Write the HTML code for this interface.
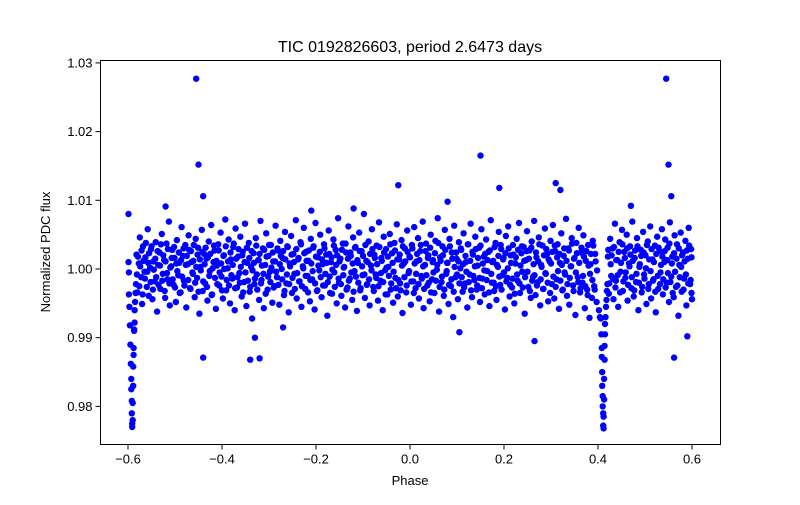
<!DOCTYPE html>
<html><head><meta charset="utf-8"><style>
body{margin:0;background:#fff;}
svg text{font-family:"Liberation Sans","DejaVu Sans",sans-serif;fill:#000;}
</style></head><body>
<svg id="chart" width="800" height="500" viewBox="0 0 800 500">
<rect x="0" y="0" width="800" height="500" fill="#fff"/>
<text x="410" y="52" font-size="16" text-anchor="middle">TIC 0192826603, period 2.6473 days</text>
<g id="points"></g>
<rect x="100.5" y="60.5" width="620" height="384" fill="none" stroke="#000" stroke-width="1"/>
<g id="xticks"></g>
<g id="yticks"></g>
<text x="410" y="485" font-size="13" text-anchor="middle">Phase</text>
<text x="50" y="252" font-size="13" text-anchor="middle" transform="rotate(-90 50 252)">Normalized PDC flux</text>
</svg>
<script>
const xTicks=[-0.6,-0.4,-0.2,0.0,0.2,0.4,0.6];
const xTickLabels=["−0.6","−0.4","−0.2","0.0","0.2","0.4","0.6"];
const yTicks=[0.98,0.99,1.00,1.01,1.02,1.03];
const yTickLabels=["0.98","0.99","1.00","1.01","1.02","1.03"];
const dipPhase=[-0.598,-0.597,-0.596,-0.595,-0.594,-0.593,-0.593,-0.592,-0.592,-0.591,-0.591,-0.590,-0.590,-0.589,-0.589,-0.588,-0.588,-0.587,-0.587,-0.586,-0.586,-0.585,-0.584,-0.583,-0.599,-0.599,-0.598,
0.406,0.407,0.408,0.408,0.409,0.409,0.410,0.410,0.411,0.411,0.412,0.412,0.413,0.413,0.414,0.414,0.415,0.415,0.416,0.417,0.418,0.419,0.420,0.404,0.402];
const dipFlux=[0.9963,0.9945,0.9918,0.9890,0.9862,0.9840,0.9825,0.9808,0.9790,0.9775,0.9770,0.9780,0.9805,0.9830,0.9858,0.9885,0.9875,0.9912,0.9910,0.9922,0.9940,0.9952,0.9965,0.9978,1.0080,1.0010,0.9995,
0.9928,0.9905,0.9885,0.9872,0.9850,0.9830,0.9815,0.9800,0.9790,0.9772,0.9768,0.9785,0.9810,0.9840,0.9868,0.9888,0.9905,0.9920,0.9930,0.9945,0.9955,0.9968,0.9978,0.9930,0.9940];
const outPhase=[-0.455,0.545,-0.450,0.550,0.150,-0.440,0.556,0.310,-0.025,-0.440,0.562,-0.340,-0.320,0.265,0.590,-0.330,0.190,-0.120,0.080,0.320,-0.210,0.470,-0.520,0.105,-0.270];
const outFlux=[1.0277,1.0277,1.0152,1.0152,1.0165,1.0106,1.0106,1.0125,1.0122,0.9871,0.9871,0.9868,0.9870,0.9895,0.9902,0.9900,1.0118,1.0088,1.0098,1.0115,1.0085,1.0092,1.0091,0.9908,0.9915];
const bandPhase=[
-0.582,-0.580,-0.577,-0.575,-0.572,-0.570,-0.568,-0.565,-0.563,-0.560,-0.558,-0.556,-0.553,-0.551,-0.548,-0.546,-0.543,-0.541,-0.538,-0.536,
-0.533,-0.531,-0.528,-0.526,-0.523,-0.521,-0.518,-0.516,-0.513,-0.511,-0.508,-0.506,-0.503,-0.501,-0.498,-0.496,-0.493,-0.491,-0.488,-0.486,
-0.483,-0.481,-0.478,-0.476,-0.473,-0.471,-0.468,-0.466,-0.463,-0.461,-0.458,-0.456,-0.453,-0.451,-0.448,-0.446,-0.443,-0.441,-0.438,-0.436,
-0.433,-0.431,-0.428,-0.426,-0.423,-0.421,-0.418,-0.416,-0.413,-0.411,-0.408,-0.406,-0.403,-0.401,-0.398,-0.396,-0.393,-0.391,-0.388,-0.386,
-0.383,-0.381,-0.378,-0.376,-0.373,-0.371,-0.368,-0.366,-0.363,-0.361,-0.358,-0.356,-0.353,-0.351,-0.348,-0.346,-0.343,-0.341,-0.338,-0.336,
-0.333,-0.331,-0.328,-0.326,-0.323,-0.321,-0.318,-0.316,-0.313,-0.311,-0.308,-0.306,-0.303,-0.301,-0.298,-0.296,-0.293,-0.291,-0.288,-0.286,
-0.283,-0.281,-0.278,-0.276,-0.273,-0.271,-0.268,-0.266,-0.263,-0.261,-0.258,-0.256,-0.253,-0.251,-0.248,-0.246,-0.243,-0.241,-0.238,-0.236,
-0.233,-0.231,-0.228,-0.226,-0.223,-0.221,-0.218,-0.216,-0.213,-0.211,-0.208,-0.206,-0.203,-0.201,-0.198,-0.196,-0.193,-0.191,-0.188,-0.186,
-0.183,-0.181,-0.178,-0.176,-0.173,-0.171,-0.168,-0.166,-0.163,-0.161,-0.158,-0.156,-0.153,-0.151,-0.148,-0.146,-0.143,-0.141,-0.138,-0.136,
-0.133,-0.131,-0.128,-0.126,-0.123,-0.121,-0.118,-0.116,-0.113,-0.111,-0.108,-0.106,-0.103,-0.101,-0.098,-0.096,-0.093,-0.091,-0.088,-0.086,
-0.083,-0.081,-0.078,-0.076,-0.073,-0.071,-0.068,-0.066,-0.063,-0.061,-0.058,-0.056,-0.053,-0.051,-0.048,-0.046,-0.043,-0.041,-0.038,-0.036,
-0.033,-0.031,-0.028,-0.026,-0.023,-0.021,-0.018,-0.016,-0.013,-0.011,-0.008,-0.006,-0.003,-0.001,0.002,0.004,0.007,0.009,0.012,0.014,
0.017,0.019,0.022,0.024,0.027,0.029,0.032,0.034,0.037,0.039,0.042,0.044,0.047,0.049,0.052,0.054,0.057,0.059,0.062,0.064,
0.067,0.069,0.072,0.074,0.077,0.079,0.082,0.084,0.087,0.089,0.092,0.094,0.097,0.099,0.102,0.104,0.107,0.109,0.112,0.114,
0.117,0.119,0.122,0.124,0.127,0.129,0.132,0.134,0.137,0.139,0.142,0.144,0.147,0.149,0.152,0.154,0.157,0.159,0.162,0.164,
0.167,0.169,0.172,0.174,0.177,0.179,0.182,0.184,0.187,0.189,0.192,0.194,0.197,0.199,0.202,0.204,0.207,0.209,0.212,0.214,
0.217,0.219,0.222,0.224,0.227,0.229,0.232,0.234,0.237,0.239,0.242,0.244,0.247,0.249,0.252,0.254,0.257,0.259,0.262,0.264,
0.267,0.269,0.272,0.274,0.277,0.279,0.282,0.284,0.287,0.289,0.292,0.294,0.297,0.299,0.302,0.304,0.307,0.309,0.312,0.314,
0.317,0.319,0.322,0.324,0.327,0.329,0.332,0.334,0.337,0.339,0.342,0.344,0.347,0.349,0.352,0.354,0.357,0.359,0.362,0.364,
0.367,0.369,0.372,0.374,0.377,0.379,0.382,0.384,0.387,0.389,0.392,0.394,0.397,0.421,0.423,0.426,0.428,0.431,0.433,0.436,
0.438,0.441,0.443,0.446,0.448,0.451,0.453,0.456,0.458,0.461,0.463,0.466,0.468,0.471,0.473,0.476,0.478,0.481,0.483,0.486,
0.488,0.491,0.493,0.496,0.498,0.501,0.503,0.506,0.508,0.511,0.513,0.516,0.518,0.521,0.523,0.526,0.528,0.531,0.533,0.536,
0.538,0.541,0.543,0.546,0.548,0.551,0.553,0.556,0.558,0.561,0.563,0.566,0.568,0.571,0.573,0.576,0.578,0.581,0.583,0.586,
0.588,0.591,0.593,0.596,0.598,0.600];
const bandFlux=[
1.0021,0.9966,1.0008,1.0046,0.9988,0.9949,1.0033,0.9996,1.0017,0.9974,1.0058,0.9961,1.0002,1.0029,0.9956,1.0011,0.9982,1.0039,0.9938,1.0006,
1.0024,0.9971,1.0051,0.9993,1.0013,0.9958,1.0037,0.9985,1.0069,0.9947,1.0004,1.0028,0.9977,1.0016,0.9952,1.0042,0.9991,1.0009,0.9966,1.0061,
1.0019,0.9983,1.0035,0.9944,1.0007,1.0049,0.9972,1.0026,0.9995,1.0012,0.9959,1.0044,0.9987,1.0031,0.9935,1.0003,1.0057,0.9968,1.0022,0.9979,
1.0015,0.9954,1.0040,0.9997,1.0064,0.9963,1.0010,1.0027,0.9942,1.0005,1.0036,0.9976,1.0053,0.9989,0.9957,1.0020,1.0072,0.9969,1.0001,1.0043,
0.9950,1.0014,0.9986,1.0032,0.9940,1.0059,0.9973,1.0018,0.9994,1.0047,0.9960,1.0025,0.9981,1.0066,0.9946,1.0009,1.0038,0.9967,1.0003,0.9928,
1.0023,0.9978,1.0045,0.9992,1.0013,0.9955,1.0070,0.9984,1.0030,0.9943,1.0006,1.0052,0.9970,1.0019,0.9996,1.0035,0.9951,1.0011,0.9975,1.0063,
0.9988,1.0027,0.9948,1.0041,1.0000,1.0016,0.9962,1.0054,0.9979,1.0033,0.9937,1.0008,1.0048,0.9965,1.0022,0.9993,1.0071,0.9957,1.0014,0.9982,
1.0039,0.9945,1.0004,1.0060,0.9971,1.0025,0.9990,1.0012,0.9953,1.0044,0.9985,1.0031,0.9941,1.0067,0.9968,1.0017,0.9998,1.0050,0.9959,1.0007,
1.0036,0.9976,1.0021,0.9932,1.0056,0.9989,1.0010,0.9964,1.0043,0.9995,1.0028,0.9950,1.0074,0.9980,1.0015,0.9961,1.0037,1.0002,0.9944,1.0024,
0.9973,1.0062,0.9986,1.0019,0.9955,1.0046,0.9997,1.0032,0.9939,1.0009,1.0053,0.9969,1.0026,0.9991,1.0080,0.9958,1.0012,0.9978,1.0040,0.9947,
1.0005,1.0058,0.9974,1.0021,0.9992,1.0034,0.9954,1.0068,0.9983,1.0016,0.9940,1.0047,0.9998,1.0029,0.9963,1.0003,1.0051,0.9970,1.0023,0.9951,
1.0038,0.9987,1.0065,0.9960,1.0014,0.9979,1.0042,0.9936,1.0008,1.0030,0.9966,1.0056,0.9994,1.0018,0.9948,1.0035,0.9982,1.0061,0.9972,1.0011,
1.0045,0.9957,1.0026,0.9990,1.0069,0.9943,1.0006,1.0037,0.9976,1.0020,0.9953,1.0050,0.9985,1.0013,0.9965,1.0041,0.9999,1.0074,0.9938,1.0017,
0.9981,1.0033,0.9961,1.0057,0.9993,1.0009,0.9949,1.0044,0.9975,1.0024,0.9930,1.0063,0.9988,1.0015,0.9956,1.0039,1.0001,1.0028,0.9967,1.0052,
0.9979,1.0010,0.9944,1.0036,0.9992,1.0066,0.9959,1.0021,0.9984,1.0047,0.9970,1.0005,1.0031,0.9952,1.0058,0.9986,1.0018,0.9963,1.0043,0.9997,
1.0025,0.9946,1.0071,0.9980,1.0012,0.9968,1.0038,0.9955,1.0003,1.0054,0.9977,1.0029,0.9991,1.0016,0.9941,1.0048,0.9987,1.0062,0.9960,1.0020,
0.9973,1.0035,0.9950,1.0008,1.0044,0.9983,1.0067,0.9965,1.0023,0.9996,1.0032,0.9935,1.0013,1.0055,0.9974,1.0027,0.9958,1.0040,0.9989,1.0070,
0.9962,1.0017,0.9981,1.0046,0.9947,1.0006,1.0034,0.9971,1.0059,0.9993,1.0022,0.9953,1.0011,1.0041,0.9978,1.0064,0.9957,1.0026,0.9985,1.0036,
0.9942,1.0009,1.0052,0.9969,1.0019,0.9995,1.0073,0.9961,1.0030,0.9948,1.0004,1.0045,0.9976,1.0015,0.9933,1.0038,0.9988,1.0060,0.9966,1.0024,
0.9980,1.0049,0.9943,1.0012,0.9970,1.0035,0.9929,1.0007,0.9958,1.0041,0.9975,1.0022,0.9952,1.0018,0.9964,1.0044,0.9990,1.0030,0.9956,1.0066,
0.9983,1.0013,0.9945,1.0039,0.9996,1.0057,0.9968,1.0025,0.9987,1.0050,0.9954,1.0008,1.0033,0.9972,1.0069,0.9960,1.0016,0.9981,1.0045,0.9940,
1.0003,1.0028,0.9966,1.0054,0.9992,1.0020,0.9949,1.0040,0.9978,1.0062,0.9957,1.0014,0.9985,1.0034,0.9937,1.0047,0.9971,1.0026,0.9995,1.0058,
0.9963,1.0010,1.0043,0.9980,1.0031,0.9952,1.0068,0.9989,1.0018,0.9959,1.0049,0.9974,1.0036,0.9932,1.0006,1.0053,0.9967,1.0024,0.9986,1.0041,
0.9947,1.0015,1.0060,0.9978,1.0029,0.9956];
const bandPhase2=[
-0.581,-0.579,-0.576,-0.574,-0.571,-0.569,-0.567,-0.564,-0.562,-0.559,-0.557,-0.555,-0.552,-0.550,-0.547,-0.545,-0.542,-0.540,-0.537,-0.535,
-0.532,-0.530,-0.527,-0.525,-0.522,-0.520,-0.517,-0.515,-0.512,-0.510,-0.507,-0.505,-0.502,-0.500,-0.497,-0.495,-0.492,-0.490,-0.487,-0.485,
-0.482,-0.480,-0.477,-0.475,-0.472,-0.470,-0.467,-0.465,-0.462,-0.460,-0.457,-0.455,-0.452,-0.450,-0.447,-0.445,-0.442,-0.440,-0.437,-0.435,
-0.432,-0.430,-0.427,-0.425,-0.422,-0.420,-0.417,-0.415,-0.412,-0.410,-0.407,-0.405,-0.402,-0.400,-0.397,-0.395,-0.392,-0.390,-0.387,-0.385,
-0.382,-0.380,-0.377,-0.375,-0.372,-0.370,-0.367,-0.365,-0.362,-0.360,-0.357,-0.355,-0.352,-0.350,-0.347,-0.345,-0.342,-0.340,-0.337,-0.335,
-0.332,-0.330,-0.327,-0.325,-0.322,-0.320,-0.317,-0.315,-0.312,-0.310,-0.307,-0.305,-0.302,-0.300,-0.297,-0.295,-0.292,-0.290,-0.287,-0.285,
-0.282,-0.280,-0.277,-0.275,-0.272,-0.270,-0.267,-0.265,-0.262,-0.260,-0.257,-0.255,-0.252,-0.250,-0.247,-0.245,-0.242,-0.240,-0.237,-0.235,
-0.232,-0.230,-0.227,-0.225,-0.222,-0.220,-0.217,-0.215,-0.212,-0.210,-0.207,-0.205,-0.202,-0.200,-0.197,-0.195,-0.192,-0.190,-0.187,-0.185,
-0.182,-0.180,-0.177,-0.175,-0.172,-0.170,-0.167,-0.165,-0.162,-0.160,-0.157,-0.155,-0.152,-0.150,-0.147,-0.145,-0.142,-0.140,-0.137,-0.135,
-0.132,-0.130,-0.127,-0.125,-0.122,-0.120,-0.117,-0.115,-0.112,-0.110,-0.107,-0.105,-0.102,-0.100,-0.097,-0.095,-0.092,-0.090,-0.087,-0.085,
-0.082,-0.080,-0.077,-0.075,-0.072,-0.070,-0.067,-0.065,-0.062,-0.060,-0.057,-0.055,-0.052,-0.050,-0.047,-0.045,-0.042,-0.040,-0.037,-0.035,
-0.032,-0.030,-0.027,-0.025,-0.022,-0.020,-0.017,-0.015,-0.012,-0.010,-0.007,-0.005,-0.002,0.000,0.003,0.005,0.008,0.010,0.013,0.015,
0.018,0.020,0.023,0.025,0.028,0.030,0.033,0.035,0.038,0.040,0.043,0.045,0.048,0.050,0.053,0.055,0.058,0.060,0.063,0.065,
0.068,0.070,0.073,0.075,0.078,0.080,0.083,0.085,0.088,0.090,0.093,0.095,0.098,0.100,0.103,0.105,0.108,0.110,0.113,0.115,
0.118,0.120,0.123,0.125,0.128,0.130,0.133,0.135,0.138,0.140,0.143,0.145,0.148,0.150,0.153,0.155,0.158,0.160,0.163,0.165,
0.168,0.170,0.173,0.175,0.178,0.180,0.183,0.185,0.188,0.190,0.193,0.195,0.198,0.200,0.203,0.205,0.208,0.210,0.213,0.215,
0.218,0.220,0.223,0.225,0.228,0.230,0.233,0.235,0.238,0.240,0.243,0.245,0.248,0.250,0.253,0.255,0.258,0.260,0.263,0.265,
0.268,0.270,0.273,0.275,0.278,0.280,0.283,0.285,0.288,0.290,0.293,0.295,0.298,0.300,0.303,0.305,0.308,0.310,0.313,0.315,
0.318,0.320,0.323,0.325,0.328,0.330,0.333,0.335,0.338,0.340,0.343,0.345,0.348,0.350,0.353,0.355,0.358,0.360,0.363,0.365,
0.368,0.370,0.373,0.375,0.378,0.380,0.383,0.385,0.388,0.390,0.393,0.395,0.398,0.422,0.424,0.427,0.429,0.432,0.434,0.437,
0.439,0.442,0.444,0.447,0.449,0.452,0.454,0.457,0.459,0.462,0.464,0.467,0.469,0.472,0.474,0.477,0.479,0.482,0.484,0.487,
0.489,0.492,0.494,0.497,0.499,0.502,0.504,0.507,0.509,0.512,0.514,0.517,0.519,0.522,0.524,0.527,0.529,0.532,0.534,0.537,
0.539,0.542,0.544,0.547,0.549,0.552,0.554,0.557,0.559,0.562,0.564,0.567,0.569,0.572,0.574,0.577,0.579,0.582,0.584,0.587,
0.589,0.592,0.594,0.597,0.599,0.599];
const bandFlux2=[
0.9992,1.0018,0.9975,1.0004,1.0027,0.9963,1.0012,0.9986,1.0038,0.9996,1.0009,1.0023,0.9981,1.0033,0.9970,0.9999,1.0015,0.9988,1.0026,0.9977,
1.0005,1.0036,0.9983,1.0020,0.9968,1.0011,0.9994,1.0029,0.9979,1.0002,1.0016,0.9985,1.0032,0.9973,1.0008,0.9997,1.0024,0.9965,1.0013,0.9989,
1.0030,0.9976,1.0006,1.0019,0.9984,1.0028,0.9971,1.0010,0.9993,1.0035,0.9980,1.0003,1.0021,0.9967,1.0014,0.9998,1.0025,0.9982,1.0007,1.0031,
0.9974,1.0017,0.9990,1.0022,0.9962,1.0001,1.0034,0.9987,1.0012,0.9978,1.0027,0.9995,1.0008,0.9969,1.0019,1.0000,1.0033,0.9984,1.0011,0.9976,
1.0024,0.9991,1.0006,1.0037,0.9972,1.0015,0.9988,1.0029,0.9980,1.0003,1.0020,0.9966,1.0010,0.9995,1.0031,0.9983,1.0016,0.9974,1.0026,0.9998,
1.0009,0.9986,1.0034,0.9970,1.0013,1.0022,0.9979,1.0005,0.9993,1.0028,0.9964,1.0018,0.9989,1.0035,0.9981,1.0002,1.0024,0.9973,1.0011,0.9996,
1.0030,0.9977,1.0007,1.0019,0.9985,1.0026,0.9968,1.0014,0.9992,1.0032,0.9978,1.0004,1.0021,0.9987,1.0010,0.9971,1.0029,0.9994,1.0016,0.9982,
1.0036,0.9975,1.0001,1.0023,0.9990,1.0012,0.9966,1.0027,0.9984,1.0008,0.9997,1.0033,0.9979,1.0018,0.9969,1.0005,1.0025,0.9988,1.0014,0.9976,
1.0030,0.9993,1.0009,0.9981,1.0022,0.9965,1.0017,0.9999,1.0034,0.9974,1.0006,1.0020,0.9986,1.0011,0.9978,1.0028,0.9991,1.0003,1.0037,0.9970,
1.0015,0.9983,1.0024,0.9995,1.0008,0.9967,1.0031,0.9989,1.0013,0.9980,1.0026,0.9972,1.0004,1.0019,0.9992,1.0035,0.9977,1.0010,0.9985,1.0022,
0.9998,1.0029,0.9968,1.0016,0.9987,1.0007,0.9975,1.0032,0.9994,1.0012,0.9981,1.0024,0.9963,1.0002,1.0018,0.9990,1.0036,0.9979,1.0009,0.9996,
1.0027,0.9972,1.0014,0.9984,1.0021,0.9969,1.0005,1.0033,0.9988,1.0011,0.9976,1.0025,0.9997,1.0017,0.9982,1.0030,0.9965,1.0008,0.9993,1.0022,
0.9978,1.0013,1.0035,0.9986,1.0004,0.9971,1.0026,0.9991,1.0016,0.9980,1.0031,0.9966,1.0010,0.9995,1.0023,0.9983,1.0006,1.0038,0.9974,1.0012,
0.9989,1.0020,0.9970,1.0028,0.9997,1.0009,0.9977,1.0033,0.9985,1.0015,0.9967,1.0003,1.0024,0.9992,1.0011,0.9979,1.0030,0.9988,1.0007,0.9973,
1.0019,0.9996,1.0036,0.9981,1.0012,0.9969,1.0025,0.9990,1.0004,1.0029,0.9976,1.0016,0.9987,1.0034,0.9972,1.0008,0.9998,1.0022,0.9984,1.0013,
0.9966,1.0027,0.9993,1.0010,0.9980,1.0032,0.9975,1.0006,1.0019,0.9989,1.0035,0.9970,1.0014,0.9995,1.0023,0.9982,1.0001,1.0030,0.9977,1.0009,
0.9986,1.0021,0.9964,1.0017,0.9992,1.0028,0.9979,1.0005,1.0033,0.9973,1.0012,0.9988,1.0026,0.9996,1.0015,0.9968,1.0031,0.9983,1.0007,0.9991,
1.0024,0.9976,1.0011,1.0036,0.9985,1.0003,0.9971,1.0020,0.9994,1.0029,0.9980,1.0014,0.9965,1.0008,1.0025,0.9989,1.0034,0.9974,1.0017,0.9997,
1.0022,0.9983,1.0006,0.9970,1.0030,0.9992,1.0012,0.9978,1.0027,0.9987,1.0004,1.0037,0.9968,1.0016,0.9995,1.0023,0.9981,1.0009,0.9972,1.0031,
0.9990,1.0018,0.9975,1.0026,0.9962,1.0005,0.9993,1.0022,0.9984,1.0034,0.9970,1.0011,0.9998,1.0028,0.9979,1.0007,1.0020,0.9986,1.0032,0.9973,
1.0013,0.9991,1.0025,0.9966,1.0009,1.0036,0.9982,1.0016,0.9995,1.0030,0.9977,1.0004,1.0021,0.9988,1.0012,0.9969,1.0027,0.9993,1.0033,0.9980,
1.0007,1.0019,0.9974,1.0024,0.9986,1.0001,1.0035,0.9971,1.0014,0.9997,1.0029,0.9983,1.0010,0.9967,1.0022,0.9990,1.0031,0.9978,1.0006,1.0018,
0.9985,1.0026,0.9973,1.0013,0.9994,1.0037,0.9981,1.0008,0.9965,1.0023,0.9996,1.0015,0.9976,1.0030,0.9988,1.0003,1.0020,0.9970,1.0011,0.9992,
1.0027,0.9979,1.0034,0.9984,1.0017,0.9965];
const NS='http://www.w3.org/2000/svg';
const L=100.5,R=720.5,T=60.5,B=444.5;
function xs(v){return 410+(v-0)*470;}
function ys(v){return 269-(v-1.0)*6870;}
const pg=document.getElementById('points');
function plot(ph,fl){
  for(let i=0;i<ph.length;i++){
    const c=document.createElementNS(NS,'circle');
    c.setAttribute('cx',xs(ph[i]).toFixed(1));
    c.setAttribute('cy',ys(fl[i]).toFixed(1));
    c.setAttribute('r','3.2');
    c.setAttribute('fill','#0000ff');
    
    
    pg.appendChild(c);
  }
}
plot(bandPhase,bandFlux);
plot(bandPhase2,bandFlux2);
plot(dipPhase,dipFlux);
plot(outPhase,outFlux);
const xg=document.getElementById('xticks');
xTicks.forEach((v,i)=>{
  const x=xs(v);
  const l=document.createElementNS(NS,'line');
  l.setAttribute('x1',x);l.setAttribute('x2',x);l.setAttribute('y1',B);l.setAttribute('y2',B+5);
  l.setAttribute('stroke','#000');
  
  
  xg.appendChild(l);
  const t=document.createElementNS(NS,'text');
  t.setAttribute('x',x);t.setAttribute('y',B+19);t.setAttribute('font-size','13');t.setAttribute('text-anchor','middle');
  t.textContent=xTickLabels[i];
  
  
  xg.appendChild(t);
});
const yg=document.getElementById('yticks');
yTicks.forEach((v,i)=>{
  const y=ys(v);
  const l=document.createElementNS(NS,'line');
  l.setAttribute('x1',L-5);l.setAttribute('x2',L);l.setAttribute('y1',y);l.setAttribute('y2',y);
  l.setAttribute('stroke','#000');
  
  
  yg.appendChild(l);
  const t=document.createElementNS(NS,'text');
  t.setAttribute('x',L-8);t.setAttribute('y',y+4.5);t.setAttribute('font-size','13');t.setAttribute('text-anchor','end');
  t.textContent=yTickLabels[i];
  
  
  yg.appendChild(t);
});
</script>
</body></html>
